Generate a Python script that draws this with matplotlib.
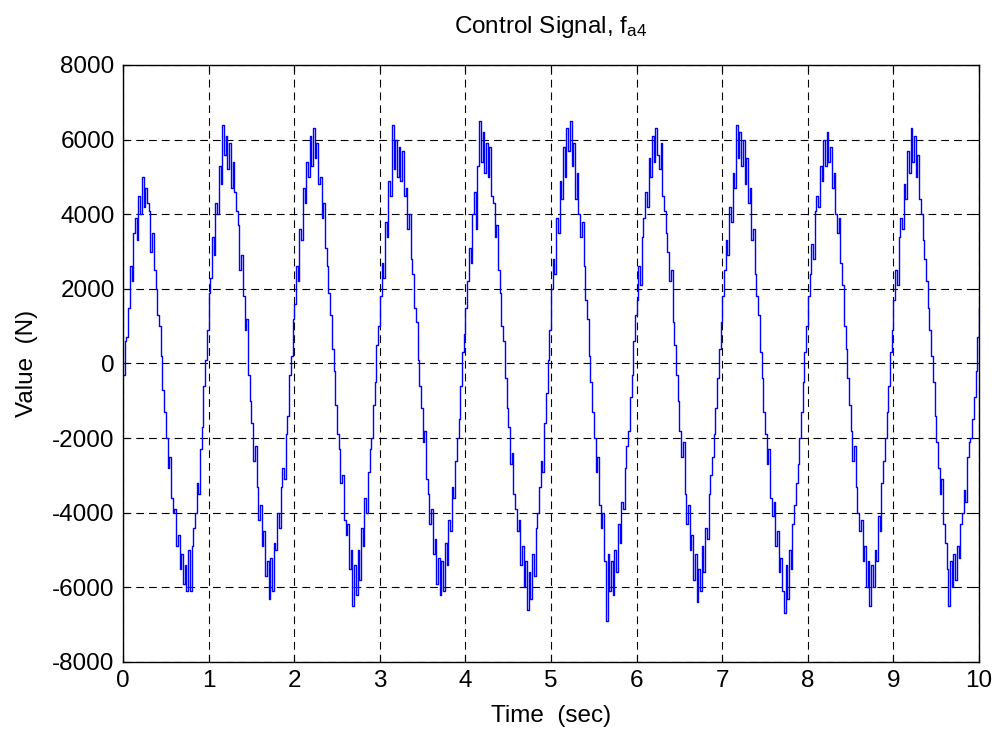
import numpy as np
import matplotlib
matplotlib.use("Agg")
import matplotlib.pyplot as plt

plt.rcParams['font.family'] = ['Liberation Sans', 'DejaVu Sans']
plt.rcParams['mathtext.fontset'] = 'custom'
plt.rcParams['mathtext.rm'] = 'Liberation Sans'
plt.rcParams['mathtext.it'] = 'Liberation Sans'

# Sampling interval of the recorded control force (s)
sample_step = 0.02

# Control force f_a4 (N), one row per second of the run
force_0 = [-300, 600, 700, 1500, 2600, 2200, 3500, 3900, 3300, 4500,
           4000, 5000, 4200, 4700, 4300, 4100, 3000, 3500, 2500, 2000,
           1300, 1000, 200, -700, -1300, -2000, -2800, -2500, -3600, -4000,
           -3900, -4900, -4600, -5500, -5100, -5900, -5400, -6100, -5000, -6100,
           -4900, -4400, -4000, -3200, -3500, -2300, -1700, -600, 100, 900]
force_1 = [1900, 2300, 3400, 2900, 4300, 4000, 5300, 4800, 6400, 5600,
           6100, 5200, 5900, 4700, 5400, 4600, 4100, 3700, 2500, 2900,
           1800, 900, 1200, -300, -1000, -1600, -2600, -2200, -3300, -4200,
           -3800, -4900, -4500, -5700, -5300, -6300, -5200, -6100, -4800, -5000,
           -4000, -4400, -3300, -2800, -3100, -1900, -1400, -300, 200, 1200]
force_2 = [1600, 2600, 2200, 3600, 3300, 4700, 4300, 5400, 5000, 6100,
           5300, 6300, 5500, 5900, 4800, 5000, 3900, 4300, 3100, 2600,
           1900, 1300, 400, -200, -1100, -1900, -2300, -3200, -3000, -4200,
           -4600, -4300, -5500, -5000, -6500, -5400, -6200, -5000, -5800, -4400,
           -4900, -3600, -4000, -2900, -2300, -2000, -1100, -500, 500, 1000]
force_3 = [1800, 2700, 2300, 3800, 3400, 4900, 4500, 6400, 5200, 6000,
           5000, 5800, 4900, 5700, 4500, 4700, 3600, 4000, 2800, 2400,
           1500, 1100, 100, -600, -1200, -2100, -1800, -3100, -3500, -4300,
           -3900, -5100, -4700, -5900, -5200, -6200, -5300, -6100, -4800, -5400,
           -4200, -4500, -3300, -3600, -2600, -2000, -1500, -600, 300, 800]
force_4 = [1500, 2200, 3100, 2700, 4000, 4600, 3600, 5300, 6500, 5400,
           6200, 5100, 5900, 5000, 5800, 4500, 4300, 3400, 3700, 2500,
           1900, 1000, 600, -400, -1200, -1700, -2700, -2400, -3500, -3900,
           -4500, -4200, -5400, -4900, -6000, -5300, -6600, -5600, -6300, -5100,
           -5700, -4400, -4000, -3300, -2600, -2900, -1600, -800, 100, 900]
force_5 = [2000, 2800, 2400, 3900, 3500, 4900, 4400, 5800, 5000, 6300,
           5700, 6500, 5300, 5900, 4400, 5100, 4000, 3400, 3800, 2600,
           1700, 1200, 200, -500, -1300, -2000, -2900, -2500, -3800, -4400,
           -4000, -5300, -6900, -5100, -6100, -5300, -6200, -5000, -5600, -4300,
           -4800, -3700, -3900, -2800, -2200, -1800, -900, -300, 600, 1300]
force_6 = [1700, 2600, 2100, 3400, 3900, 4600, 4200, 5500, 5000, 6100,
           5400, 6300, 5600, 5200, 5900, 4500, 4100, 3500, 3000, 2200,
           2500, 1100, 500, -300, -1000, -1800, -2500, -2100, -3500, -4300,
           -3800, -5000, -4600, -5800, -5100, -6400, -5500, -6100, -4900, -5600,
           -4400, -4700, -3500, -3000, -2500, -1900, -1200, -400, 400, 1100]
force_7 = [1800, 2500, 3300, 2900, 4200, 3800, 5100, 4700, 6400, 5500,
           6200, 5300, 6000, 4800, 5500, 4300, 4700, 3300, 3600, 2400,
           1800, 1300, 300, -400, -1300, -1900, -2700, -2300, -3600, -4100,
           -3700, -4900, -4500, -5600, -5200, -6100, -6700, -5400, -6300, -5000,
           -5500, -4300, -3800, -3200, -2700, -2000, -1300, -500, 300, 1000]
force_8 = [1800, 2400, 3200, 2800, 4100, 4500, 4200, 5300, 4900, 6000,
           5300, 6200, 5400, 5800, 4700, 5100, 4000, 3500, 3900, 2700,
           2100, 1000, 400, -400, -1100, -1800, -2600, -2200, -3300, -4000,
           -4500, -4200, -5300, -4900, -6000, -5300, -6500, -5400, -6000, -5000,
           -5300, -4100, -4500, -3200, -2600, -2000, -1300, -600, 300, 900]
force_9 = [1700, 2500, 2100, 3400, 3900, 3600, 4800, 4400, 5700, 5100,
           6300, 5400, 6100, 5000, 5600, 4400, 4000, 3300, 2800, 2200,
           1500, 900, 200, -500, -1400, -2100, -2800, -3500, -3100, -4300,
           -4800, -5500, -6500, -5300, -6000, -5100, -5800, -4900, -5200, -4300,
           -4000, -3400, -3700, -2500, -2100, -2000, -1500, -900, -200, 700,
           1500]

force = np.array(force_0 + force_1 + force_2 + force_3 + force_4 +
                 force_5 + force_6 + force_7 + force_8 + force_9, dtype=float)
time = np.arange(len(force)) * sample_step

x_ticks = [0, 1, 2, 3, 4, 5, 6, 7, 8, 9, 10]
y_ticks = [-8000, -6000, -4000, -2000, 0, 2000, 4000, 6000, 8000]

FS = 17.5

fig = plt.figure(figsize=(9.97, 7.31), dpi=100)
ax = fig.add_axes([0.1234, 0.0944, 0.8586, 0.8167])

# zero-order-hold controller output
ax.plot(time, force, color=(0, 0, 1), linewidth=1.0, drawstyle='steps-post')

ax.set_xlim(0, 10)
ax.set_ylim(-8000, 8000)
ax.set_xticks(x_ticks)
ax.set_yticks(y_ticks)
ax.set_xticklabels([str(v) for v in x_ticks])
ax.set_yticklabels([str(v) for v in y_ticks])

ax.grid(True, color='black', linestyle=(0, (7, 4.5)), linewidth=0.8)
ax.tick_params(direction='in', length=5, width=0.8, top=True, right=True,
               labelsize=FS, colors='black')
ax.tick_params(axis='x', pad=6)
ax.tick_params(axis='y', pad=6)
for sp in ax.spines.values():
    sp.set_linewidth(1.0)
    sp.set_color('black')

ax.set_title(r'Control Signal, $\mathregular{f_{a4}}$', fontsize=FS, pad=23)
ax.set_xlabel('Time  (sec)', fontsize=FS, labelpad=9)
ax.set_ylabel('Value  (N)', fontsize=FS, labelpad=10)

fig.savefig('out.png', dpi=100, facecolor='white')
